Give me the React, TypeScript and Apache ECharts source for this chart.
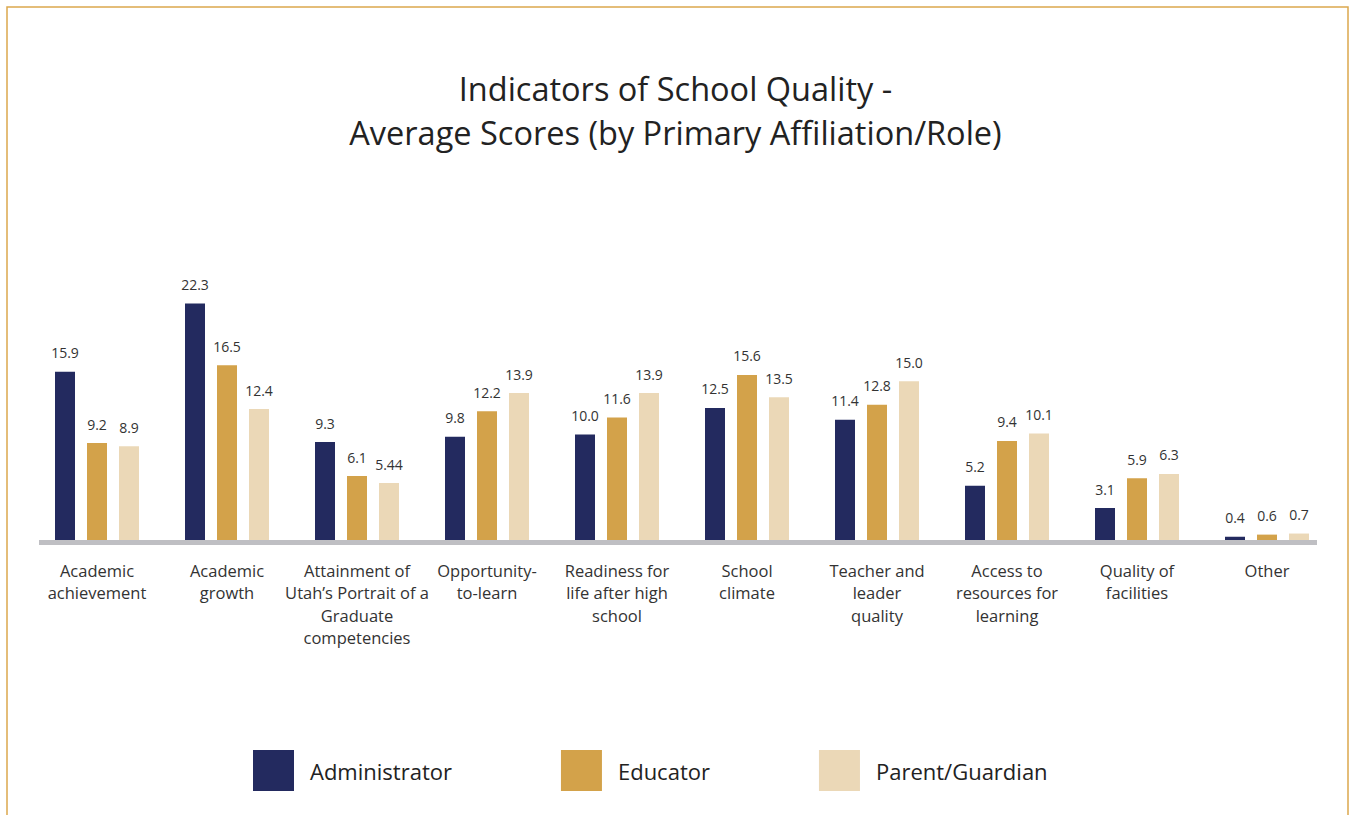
import React, { useEffect, useRef } from "react";
import * as echarts from "echarts";

const categories = [
  "Academic\nachievement",
  "Academic\ngrowth",
  "Attainment of\nUtah’s Portrait of a\nGraduate\ncompetencies",
  "Opportunity-\nto-learn",
  "Readiness for\nlife after high\nschool",
  "School\nclimate",
  "Teacher and\nleader\nquality",
  "Access to\nresources for\nlearning",
  "Quality of\nfacilities",
  "Other",
];
const administrator = [15.9, 22.3, 9.3, 9.8, 10.0, 12.5, 11.4, 5.2, 3.1, 0.4];
const educator = [9.2, 16.5, 6.1, 12.2, 11.6, 15.6, 12.8, 9.4, 5.9, 0.6];
const parentGuardian = [8.9, 12.4, 5.44, 13.9, 13.9, 13.5, 15.0, 10.1, 6.3, 0.7];
const seriesNames = ["Administrator", "Educator", "Parent/Guardian"];
const colors = ["#232A5F", "#D3A24A", "#EBD8B7"];

const FONT = "'Open Sans', 'Noto Sans', sans-serif";

const fmt = (p: any) => {
  const v = p.value as number;
  return Math.round(v * 10) / 10 === v ? v.toFixed(1) : String(v);
};

export default function App() {
  const ref = useRef<HTMLDivElement>(null);
  useEffect(() => {
    document.body.style.margin = "0";
    const chart = echarts.init(ref.current!, null, { renderer: "svg" });
    const dataSets = [administrator, educator, parentGuardian];
    chart.setOption({
      animation: false,
      backgroundColor: "#ffffff",
      title: {
        text: "Indicators of School Quality -\nAverage Scores (by Primary Affiliation/Role)",
        left: "center",
        top: 66,
        padding: 0,
        textStyle: {
          fontFamily: FONT,
          fontSize: 32.5,
          fontWeight: "normal",
          color: "#222222",
          lineHeight: 44,
        },
      },
      legend: {
        left: 253,
        top: 750,
        padding: 0,
        itemWidth: 41,
        itemHeight: 41,
        itemGap: 109,
        icon: "rect",
        textStyle: {
          fontFamily: FONT,
          fontSize: 22,
          color: "#222222",
          padding: [0, 0, 0, 11],
        },
        data: seriesNames,
      },
      grid: { left: 32, right: 19, top: 277, bottom: 274, containLabel: false },
      xAxis: {
        type: "category",
        data: categories,
        axisLine: { show: false },
        axisTick: { show: false },
        axisLabel: {
          interval: 0,
          margin: 18,
          fontFamily: FONT,
          fontSize: 16.5,
          lineHeight: 22.5,
          color: "#333333",
          verticalAlign: "top",
        },
      },
      yAxis: {
        type: "value",
        min: 0,
        max: 24.8,
        show: false,
        splitLine: { show: false },
      },
      graphic: [
        {
          type: "rect",
          shape: { x: 7, y: 7, width: 1341, height: 830 },
          style: { fill: "none", stroke: "#DBA84E", lineWidth: 1.5 },
          silent: true,
          z: 100,
        },
        {
          type: "rect",
          shape: { x: 39, y: 540, width: 1278, height: 5 },
          style: { fill: "#BFBFC3" },
          silent: true,
          z: 100,
        },
      ],
      series: dataSets.map((d, i) => ({
        name: seriesNames[i],
        type: "bar",
        data: d,
        barWidth: 20,
        barGap: "60%",
        itemStyle: { color: colors[i] },
        label: {
          show: true,
          position: "top",
          distance: 12,
          formatter: fmt,
          fontFamily: FONT,
          fontSize: 14,
          color: "#333333",
        },
      })),
    });
    return () => chart.dispose();
  }, []);
  return <div ref={ref} style={{ width: 1351, height: 815 }} />;
}
